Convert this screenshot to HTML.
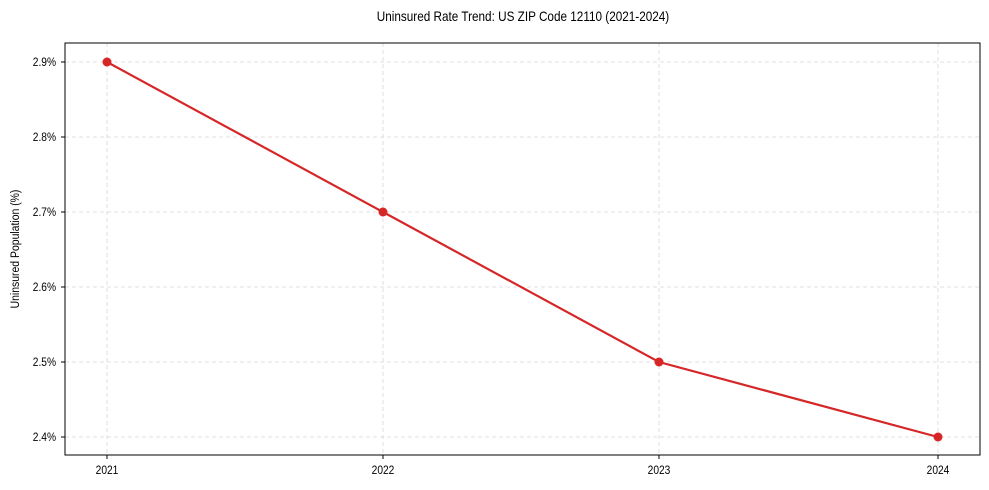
<!DOCTYPE html>
<html><head><meta charset="utf-8"><style>body{margin:0;background:#fff}svg{display:block}text{font-family:"Liberation Sans",Arial,sans-serif;fill:#000}</style></head>
<body>
<svg width="989" height="490" xmlns="http://www.w3.org/2000/svg">
<rect width="989" height="490" fill="#fff"/>
<text x="0" y="0" font-size="13.5" text-anchor="middle" transform="translate(523,21) scale(0.87,1)">Uninsured Rate Trend: US ZIP Code 12110 (2021-2024)</text>
<g stroke="#d8d8d8" stroke-width="0.8" stroke-dasharray="4,3">
<line x1="107" y1="43" x2="107" y2="455"/><line x1="383" y1="43" x2="383" y2="455"/><line x1="659" y1="43" x2="659" y2="455"/><line x1="938" y1="43" x2="938" y2="455"/>
<line x1="65" y1="62" x2="980" y2="62"/><line x1="65" y1="137" x2="980" y2="137"/><line x1="65" y1="212" x2="980" y2="212"/><line x1="65" y1="287" x2="980" y2="287"/><line x1="65" y1="362" x2="980" y2="362"/><line x1="65" y1="437" x2="980" y2="437"/>
</g>
<rect x="65" y="43" width="915" height="412" fill="none" stroke="#000" stroke-width="1"/>
<g stroke="#000" stroke-width="1">
<line x1="61" y1="62" x2="65" y2="62"/><line x1="61" y1="137" x2="65" y2="137"/><line x1="61" y1="212" x2="65" y2="212"/><line x1="61" y1="287" x2="65" y2="287"/><line x1="61" y1="362" x2="65" y2="362"/><line x1="61" y1="437" x2="65" y2="437"/>
<line x1="107" y1="455" x2="107" y2="459"/><line x1="383" y1="455" x2="383" y2="459"/><line x1="659" y1="455" x2="659" y2="459"/><line x1="938" y1="455" x2="938" y2="459"/>
</g>
<g font-size="12" text-anchor="end">
<text transform="translate(56,66) scale(0.85,1)">2.9%</text><text transform="translate(56,141) scale(0.85,1)">2.8%</text><text transform="translate(56,216) scale(0.85,1)">2.7%</text><text transform="translate(56,291) scale(0.85,1)">2.6%</text><text transform="translate(56,366) scale(0.85,1)">2.5%</text><text transform="translate(56,441) scale(0.85,1)">2.4%</text>
</g>
<g font-size="12" text-anchor="middle">
<text transform="translate(107,474) scale(0.85,1)">2021</text><text transform="translate(383,474) scale(0.85,1)">2022</text><text transform="translate(659,474) scale(0.85,1)">2023</text><text transform="translate(938,474) scale(0.85,1)">2024</text>
</g>
<text x="0" y="0" font-size="12" text-anchor="middle" transform="translate(19,249) rotate(-90) scale(0.87,1)">Uninsured Population (%)</text>
<polyline points="107,62 383,212 659,362 938,437" fill="none" stroke="#d62728" stroke-width="2.2"/>
<g fill="#d62728"><circle cx="107" cy="62" r="4.5"/><circle cx="383" cy="212" r="4.5"/><circle cx="659" cy="362" r="4.5"/><circle cx="938" cy="437" r="4.5"/></g>
</svg>
</body></html>
